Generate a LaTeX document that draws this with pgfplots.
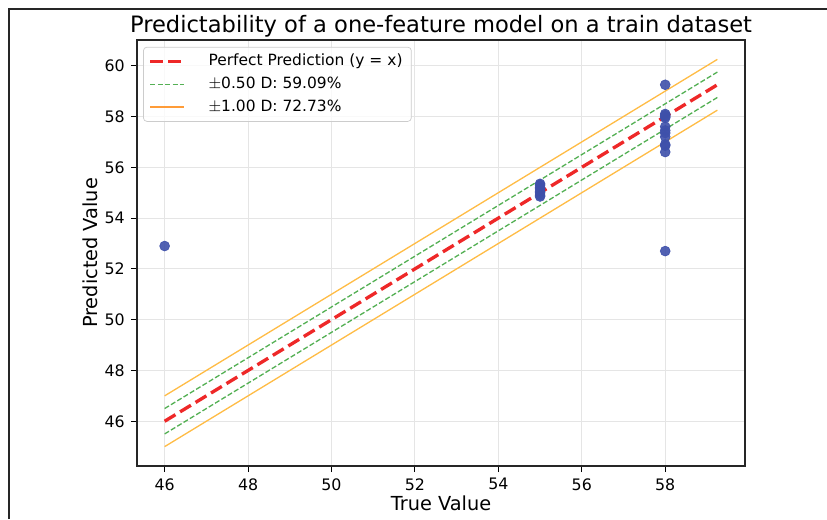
\documentclass[border=0pt]{standalone}
\usepackage{pgfplots}
\pgfplotsset{compat=1.18}
\usepackage{fontspec}
\setmainfont{DejaVu Sans}

\definecolor{ptblue}{RGB}{62,80,170}
\definecolor{idred}{RGB}{238,40,40}
\definecolor{bandgreen}{RGB}{84,176,84}
\definecolor{bandorange}{RGB}{255,188,70}

\begin{document}
\begin{tikzpicture}
\useasboundingbox (0,0) rectangle (16.54,10.38);
\draw[line width=0.9pt, black!85] (0.18,0) -- (0.18,10.2) -- (16.54,10.2);
\begin{axis}[
    at={(2.74cm,1.06cm)}, anchor=south west,
    scale only axis,
    width=12.16cm, height=8.52cm,
    xmin=45.3375, xmax=59.9125,
    ymin=44.2375, ymax=61.0125,
    xtick={46,48,...,58},
    ytick={46,48,...,60},
    tick align=outside,
    tick pos=left,
    major tick length=3.5pt,
    tick style={black, line width=0.6pt},
    axis line style={black!85, line width=0.7pt},
    grid=major,
    grid style={black!10, line width=0.5pt},
    /pgf/number format/assume math mode=true,
    tick label style={font=\fontsize{9}{10}\selectfont},
    xlabel={True Value},
    ylabel={Predicted Value},
    label style={font=\fontsize{11}{13}\selectfont},
    xlabel style={yshift=4pt},
    ylabel style={yshift=-3pt},
    title={Predictability of a one-feature model on a train dataset},
    title style={font=\fontsize{12.85}{15}\selectfont, anchor=base, at={(0.5,1)}, yshift=-2pt},
    legend cell align=left,
    legend style={at={(0.01,0.984)}, anchor=north west, font=\fontsize{8.8}{11}\selectfont,
        draw=black!20, rounded corners=2pt, fill=white, fill opacity=0.8, text opacity=1,
        draw opacity=1,
        inner xsep=3pt, inner ysep=2pt, row sep=1pt,
        nodes={inner xsep=2pt},
        /tikz/every odd column/.append style={column sep=0.38cm}},
]
\addplot[only marks, mark=*, mark size=2.8pt, color=ptblue, fill opacity=0.9, draw opacity=0.9, forget plot] coordinates {
(46,52.9)
(55,54.85) (55,54.9) (55,55.0) (55,55.05) (55,55.15) (55,55.2) (55,55.3) (55,55.35)
(58,59.25) (58,58.1) (58,58.05) (58,58.0) (58,57.95) (58,57.6)
(58,57.45) (58,57.35) (58,57.2)
(58,56.9) (58,56.85) (58,56.6) (58,52.7)
};
\addplot[color=idred, line width=1.9pt, dash pattern=on 7.2pt off 3.1pt, forget plot] coordinates {(46,46) (59.25,59.25)};
\addplot[color=bandgreen, line width=0.75pt, dash pattern=on 2.9pt off 1.3pt, forget plot] coordinates {(46,46.5) (59.25,59.75)};
\addplot[color=bandgreen, line width=0.75pt, dash pattern=on 2.9pt off 1.3pt, forget plot] coordinates {(46,45.5) (59.25,58.75)};
\addplot[color=bandorange, line width=0.75pt, forget plot] coordinates {(46,47) (59.25,60.25)};
\addplot[color=bandorange, line width=0.75pt, forget plot] coordinates {(46,45) (59.25,58.25)};

\addlegendimage{legend image code/.code={\draw[idred, line width=1.9pt, dash pattern=on 7.2pt off 3.1pt] (0cm,0cm) -- (0.68cm,0cm);}}
\addlegendentry{Perfect Prediction (y = x)}
\addlegendimage{legend image code/.code={\draw[bandgreen, line width=0.75pt, dash pattern=on 2.9pt off 1.3pt] (0cm,0cm) -- (0.68cm,0cm);}}
\addlegendentry{$\pm$0.50 D: 59.09\%}
\addlegendimage{legend image code/.code={\draw[draw=orange!78, opacity=1, line width=1.0pt] (0cm,0cm) -- (0.68cm,0cm);}}
\addlegendentry{$\pm$1.00 D: 72.73\%}
\end{axis}
\end{tikzpicture}
\end{document}
